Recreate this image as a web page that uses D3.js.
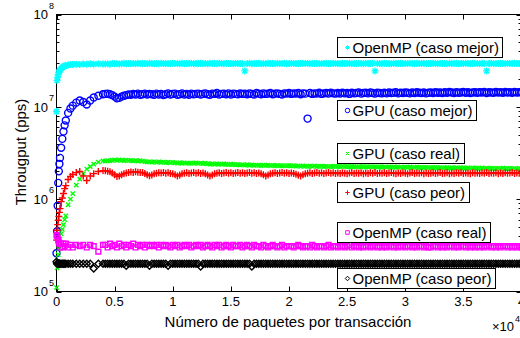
<!DOCTYPE html>
<html>
<head>
<meta charset="utf-8">
<script src="https://cdn.jsdelivr.net/npm/d3@7"></script>
<style>
  body { margin: 0; background: #fff; }
  svg { display: block; font-family: "Liberation Sans", Arial, Helvetica, sans-serif; }
</style>
</head>
<body>
<svg id="chart" width="520" height="338"></svg>
<script>
// packets per transaction (x), throughput in Mpps (y)
const packets = [
  0, 50, 100, 150, 200, 250, 300, 400, 500, 600, 700, 800, 1000, 1200, 1400, 1700, 2000, 2300, 2600, 2900, 3200, 3600, 4000,
  4200, 4400, 4600, 4800, 5000, 5200, 5400, 5600, 5800, 6000, 6200, 6400, 6600, 6800, 7000, 7200, 7400, 7600, 7800, 8000,
  8200, 8400, 8600, 8800, 9000, 9200, 9400, 9600, 9800, 10000, 10200, 10400, 10600, 10800, 11000, 11200, 11400, 11600, 11800, 12000,
  12200, 12400, 12600, 12800, 13000, 13200, 13400, 13600, 13800, 14000, 14200, 14400, 14600, 14800, 15000, 15200, 15400, 15600, 15800, 16000,
  16200, 16400, 16600, 16800, 17000, 17200, 17400, 17600, 17800, 18000, 18200, 18400, 18600, 18800, 19000, 19200, 19400, 19600, 19800, 20000,
  20200, 20400, 20600, 20800, 21000, 21200, 21400, 21600, 21800, 22000, 22200, 22400, 22600, 22800, 23000, 23200, 23400, 23600, 23800, 24000,
  24200, 24400, 24600, 24800, 25000, 25200, 25400, 25600, 25800, 26000, 26200, 26400, 26600, 26800, 27000, 27200, 27400, 27600, 27800, 28000,
  28200, 28400, 28600, 28800, 29000, 29200, 29400, 29600, 29800, 30000, 30200, 30400, 30600, 30800, 31000, 31200, 31400, 31600, 31800, 32000,
  32200, 32400, 32600, 32800, 33000, 33200, 33400, 33600, 33800, 34000, 34200, 34400, 34600, 34800, 35000, 35200, 35400, 35600, 35800, 36000,
  36200, 36400, 36600, 36800, 37000, 37200, 37400, 37600, 37800, 38000, 38200, 38400, 38600, 38800, 39000, 39200, 39400, 39600, 39800, 40000
];

const openmpBest = [
  8.9, 19.3, 21.0, 22.3, 23.5, 24.4, 25.0, 26.0, 26.7, 27.3, 27.6, 28.0, 28.3, 28.7, 28.7, 29.0, 28.8, 29.1, 28.9, 29.2, 29.0, 29.3, 29.1,
  29.1, 29.3, 29.0, 29.4, 29.2, 29.5, 29.1, 29.3, 29.6, 29.2, 29.4, 29.3, 29.5, 29.2, 29.6, 29.4, 29.3, 29.5, 29.2, 29.6,
  29.4, 29.2, 29.5, 29.3, 29.6, 29.4, 29.2, 29.5, 29.3, 29.6, 29.4, 29.5, 29.2, 29.6, 29.3, 29.5, 29.4, 29.6, 29.3, 29.5,
  29.4, 29.6, 29.3, 29.5, 29.2, 29.6, 29.4, 29.5, 29.3, 29.6, 29.5, 29.3, 29.6, 29.4, 29.5, 29.2, 29.6, 29.4, 29.5, 29.3,
  24.5, 29.4, 29.6, 29.3, 29.5, 29.4, 29.6, 29.2, 29.5, 29.3, 29.6, 29.4, 29.5, 29.3, 29.6, 29.5, 29.4, 29.6, 29.3, 29.5,
  29.6, 29.4, 29.5, 29.3, 29.6, 29.4, 29.5, 29.6, 29.3, 29.5, 29.4, 29.6, 29.2, 29.5, 29.4, 29.6, 29.3, 29.5, 29.6, 29.4,
  29.5, 29.3, 29.6, 29.4, 29.5, 29.6, 29.3, 29.5, 29.4, 29.6, 29.5, 29.3, 29.6, 29.4, 29.5, 29.6, 24.5, 29.4, 29.5, 29.3,
  29.6, 29.4, 29.5, 29.3, 29.6, 29.5, 29.4, 29.6, 29.3, 29.5, 29.4, 29.6, 29.5, 29.3, 29.6, 29.4, 29.5, 29.6, 29.3, 29.5,
  29.4, 29.6, 29.5, 29.3, 29.6, 29.4, 29.5, 29.3, 29.6, 29.5, 29.4, 29.6, 29.3, 29.5, 29.4, 29.6, 29.5, 29.3, 29.6, 29.4,
  29.5, 29.3, 29.6, 29.4, 24.5, 29.5, 29.6, 29.3, 29.5, 29.4, 29.6, 29.5, 29.3, 29.6, 29.4, 29.5, 29.6, 29.4, 29.5, 29.3
];

const gpuBest = [
  0.26, 0.45, 0.85, 1.5, 2.0, 2.4, 2.8, 3.6, 4.5, 5.4, 6.3, 7.1, 8.6, 9.6, 10.3, 11.1, 11.7, 11.3, 10.6, 11.7, 12.6, 13.2, 13.7,
  13.8, 13.9, 13.7, 13.4, 12.9, 12.4, 12.5, 12.9, 13.2, 13.4, 13.6, 13.5, 13.8, 13.6, 13.9, 13.5, 13.7, 13.9, 13.6, 13.8,
  13.7, 13.5, 13.9, 13.6, 13.8, 13.4, 13.7, 14.0, 13.6, 13.8, 13.9, 13.5, 13.7, 14.0, 13.6, 13.8, 13.5, 13.9, 13.7, 13.8,
  13.9, 13.6, 13.8, 14.0, 13.7, 13.5, 13.9, 13.8, 14.1, 13.6, 13.8, 13.9, 13.7, 14.0, 13.6, 13.9, 13.8, 13.7, 14.0, 13.8,
  13.9, 13.7, 14.0, 13.8, 13.6, 14.1, 13.9, 13.7, 14.0, 13.8, 13.9, 14.1, 13.7, 13.9, 14.0, 13.8, 13.6, 14.0, 13.9, 14.1,
  13.8, 14.0, 13.9, 14.1, 13.7, 14.0, 13.9, 7.46, 14.1, 13.8, 14.0, 13.9, 14.2, 13.8, 14.0, 14.1, 13.9, 14.2, 14.0, 13.9,
  14.1, 13.9, 14.2, 14.0, 14.1, 13.8, 14.2, 14.0, 14.1, 14.3, 13.9, 14.1, 14.2, 14.0, 14.3, 14.1, 13.9, 14.2, 14.1, 14.0,
  14.2, 14.0, 14.3, 14.1, 14.2, 14.4, 14.0, 14.2, 14.1, 14.3, 14.2, 14.0, 14.3, 14.1, 14.4, 14.2, 14.1, 14.3, 14.0, 14.2,
  14.3, 14.1, 14.4, 14.2, 14.3, 14.1, 14.4, 14.2, 14.5, 14.3, 14.1, 14.4, 14.2, 14.3, 14.5, 14.2, 14.4, 14.1, 14.3, 14.4,
  14.2, 14.4, 14.3, 14.5, 14.1, 14.4, 14.3, 14.2, 14.5, 14.3, 14.4, 14.2, 14.5, 14.3, 14.4, 14.2, 14.5, 14.3, 14.4, 14.3
];

const gpuReal = [
  0.11, 0.18, 0.21, 0.25, 0.29, 0.33, 0.37, 0.42, 0.47, 0.53, 0.60, 0.66, 0.87, 1.0, 1.15, 1.42, 1.65, 1.88, 2.12, 2.25, 2.40, 2.52, 2.60,
  2.58, 2.62, 2.60, 2.64, 2.66, 2.63, 2.67, 2.64, 2.62, 2.65, 2.61, 2.63, 2.60, 2.62, 2.59, 2.61, 2.58, 2.55, 2.53, 2.54,
  2.52, 2.54, 2.51, 2.53, 2.50, 2.52, 2.49, 2.51, 2.48, 2.50, 2.47, 2.46, 2.48, 2.45, 2.47, 2.46, 2.44, 2.46, 2.45, 2.47,
  2.44, 2.46, 2.43, 2.45, 2.42, 2.40, 2.42, 2.39, 2.41, 2.40, 2.38, 2.41, 2.39, 2.37, 2.39, 2.38, 2.36, 2.37, 2.35, 2.36,
  2.34, 2.36, 2.33, 2.35, 2.32, 2.34, 2.33, 2.31, 2.34, 2.32, 2.33, 2.31, 2.32, 2.30, 2.32, 2.31, 2.29, 2.31, 2.30, 2.31,
  2.29, 2.30, 2.28, 2.29, 2.27, 2.29, 2.28, 2.26, 2.28, 2.27, 2.29, 2.26, 2.27, 2.28, 2.26, 2.27, 2.25, 2.27, 2.26, 2.27,
  2.26, 2.25, 2.27, 2.25, 2.26, 2.24, 2.26, 2.25, 2.23, 2.25, 2.24, 2.26, 2.23, 2.24, 2.25, 2.23, 2.24, 2.22, 2.24, 2.23,
  2.23, 2.22, 2.24, 2.22, 2.23, 2.21, 2.23, 2.22, 2.20, 2.22, 2.21, 2.23, 2.20, 2.21, 2.22, 2.20, 2.21, 2.19, 2.21, 2.20,
  2.20, 2.19, 2.21, 2.19, 2.20, 2.18, 2.20, 2.19, 2.17, 2.19, 2.18, 2.20, 2.17, 2.18, 2.19, 2.17, 2.18, 2.16, 2.18, 2.17,
  2.17, 2.16, 2.18, 2.16, 2.17, 2.15, 2.17, 2.16, 2.14, 2.16, 2.15, 2.17, 2.14, 2.15, 2.16, 2.14, 2.15, 2.13, 2.15, 2.14
];

const gpuWorst = [
  0.36, 0.46, 0.53, 0.59, 0.65, 0.72, 0.79, 0.94, 1.03, 1.15, 1.30, 1.40, 1.63, 1.76, 1.85, 1.94, 1.99, 1.78, 1.59, 1.78, 1.89, 1.99, 2.04,
  2.03, 2.01, 1.98, 1.92, 1.84, 1.76, 1.78, 1.84, 1.89, 1.92, 1.95, 1.97, 1.95, 1.98, 1.96, 1.94, 1.95, 1.90, 1.84, 1.79,
  1.83, 1.88, 1.91, 1.93, 1.92, 1.94, 1.91, 1.93, 1.90, 1.88, 1.84, 1.78, 1.83, 1.88, 1.91, 1.93, 1.90, 1.92, 1.94, 1.91,
  1.93, 1.90, 1.92, 1.88, 1.83, 1.78, 1.83, 1.88, 1.91, 1.93, 1.90, 1.92, 1.94, 1.91, 1.93, 1.90, 1.92, 1.94, 1.91, 1.93,
  1.90, 1.92, 1.94, 1.91, 1.93, 1.90, 1.92, 1.88, 1.84, 1.78, 1.83, 1.88, 1.91, 1.93, 1.90, 1.92, 1.94, 1.91, 1.93, 1.90,
  1.92, 1.90, 1.86, 1.82, 1.78, 1.84, 1.88, 1.91, 1.93, 1.90, 1.92, 1.94, 1.91, 1.93, 1.90, 1.92, 1.94, 1.91, 1.93, 1.90,
  1.92, 1.90, 1.93, 1.91, 1.89, 1.92, 1.94, 1.90, 1.92, 1.91, 1.93, 1.89, 1.92, 1.90, 1.93, 1.91, 1.94, 1.90, 1.92, 1.91,
  1.93, 1.90, 1.92, 1.94, 1.91, 1.89, 1.92, 1.90, 1.93, 1.91, 1.88, 1.92, 1.94, 1.90, 1.92, 1.91, 1.93, 1.89, 1.92, 1.90,
  1.91, 1.93, 1.90, 1.92, 1.94, 1.90, 1.91, 1.93, 1.89, 1.92, 1.90, 1.93, 1.91, 1.94, 1.90, 1.92, 1.91, 1.89, 1.93, 1.91,
  1.92, 1.90, 1.93, 1.91, 1.94, 1.90, 1.92, 1.91, 1.93, 1.89, 1.92, 1.90, 1.93, 1.91, 1.92, 1.94, 1.90, 1.92, 1.91, 1.93
];

const openmpReal = [
  0.41, 0.40, 0.38, 0.36, 0.34, 0.33, 0.30, 0.33, 0.30, 0.33, 0.31, 0.33, 0.30, 0.32, 0.30, 0.32, 0.31, 0.32, 0.30, 0.32, 0.31, 0.27, 0.32,
  0.32, 0.30, 0.33, 0.31, 0.32, 0.30, 0.33, 0.31, 0.32, 0.30, 0.32, 0.31, 0.33, 0.30, 0.32, 0.31, 0.32, 0.30, 0.32, 0.31,
  0.32, 0.31, 0.32, 0.30, 0.32, 0.31, 0.32, 0.31, 0.30, 0.32, 0.31, 0.32, 0.30, 0.31, 0.32, 0.31, 0.32, 0.30, 0.31, 0.32,
  0.31, 0.32, 0.30, 0.31, 0.32, 0.31, 0.30, 0.32, 0.31, 0.32, 0.30, 0.31, 0.32, 0.31, 0.30, 0.32, 0.31, 0.31, 0.32, 0.30,
  0.31, 0.32, 0.31, 0.30, 0.32, 0.31, 0.31, 0.30, 0.32, 0.31, 0.30, 0.31, 0.32, 0.31, 0.30, 0.31, 0.32, 0.30, 0.31, 0.31,
  0.31, 0.30, 0.31, 0.32, 0.31, 0.30, 0.31, 0.31, 0.30, 0.32, 0.31, 0.30, 0.31, 0.31, 0.30, 0.31, 0.32, 0.30, 0.31, 0.31,
  0.30, 0.31, 0.31, 0.30, 0.31, 0.32, 0.30, 0.31, 0.31, 0.30, 0.31, 0.30, 0.31, 0.31, 0.30, 0.31, 0.31, 0.30, 0.31, 0.30,
  0.31, 0.30, 0.31, 0.31, 0.30, 0.31, 0.30, 0.31, 0.31, 0.30, 0.31, 0.31, 0.30, 0.31, 0.30, 0.31, 0.31, 0.30, 0.31, 0.30,
  0.30, 0.31, 0.31, 0.30, 0.31, 0.30, 0.31, 0.30, 0.31, 0.31, 0.30, 0.31, 0.30, 0.31, 0.31, 0.30, 0.31, 0.30, 0.31, 0.30,
  0.31, 0.30, 0.31, 0.30, 0.31, 0.31, 0.30, 0.31, 0.30, 0.31, 0.30, 0.31, 0.31, 0.30, 0.31, 0.30, 0.31, 0.30, 0.31, 0.30
];

const openmpWorst = [
  0.21, 0.20, 0.20, 0.20, 0.20, 0.20, 0.20, 0.20, 0.20, 0.20, 0.20, 0.20, 0.20, 0.20, 0.20, 0.20, 0.20, 0.20, 0.20, 0.20, 0.177, 0.20, 0.20,
  0.20, 0.20, 0.20, 0.20, 0.20, 0.20, 0.20, 0.20, 0.20, 0.19, 0.20, 0.20, 0.20, 0.20, 0.20, 0.20, 0.20, 0.20, 0.20, 0.19,
  0.20, 0.20, 0.20, 0.20, 0.20, 0.20, 0.20, 0.19, 0.20, 0.20, 0.20, 0.20, 0.20, 0.20, 0.20, 0.20, 0.20, 0.20, 0.20, 0.20,
  0.20, 0.186, 0.20, 0.20, 0.20, 0.20, 0.20, 0.20, 0.20, 0.20, 0.20, 0.20, 0.20, 0.20, 0.20, 0.20, 0.20, 0.20, 0.20, 0.20,
  0.20, 0.20, 0.20, 0.186, 0.20, 0.20, 0.20, 0.20, 0.20, 0.20, 0.20, 0.20, 0.20, 0.20, 0.20, 0.20, 0.20, 0.20, 0.20, 0.20,
  0.20, 0.20, 0.20, 0.20, 0.20, 0.20, 0.20, 0.20, 0.20, 0.20, 0.20, 0.20, 0.20, 0.20, 0.20, 0.20, 0.20, 0.20, 0.20, 0.20,
  0.20, 0.20, 0.20, 0.20, 0.20, 0.20, 0.20, 0.20, 0.20, 0.20, 0.20, 0.20, 0.20, 0.20, 0.20, 0.20, 0.20, 0.20, 0.20, 0.20,
  0.20, 0.20, 0.20, 0.20, 0.20, 0.20, 0.20, 0.20, 0.20, 0.20, 0.20, 0.20, 0.20, 0.20, 0.20, 0.20, 0.20, 0.20, 0.20, 0.20,
  0.20, 0.20, 0.20, 0.20, 0.20, 0.20, 0.20, 0.20, 0.20, 0.20, 0.20, 0.20, 0.20, 0.20, 0.20, 0.20, 0.20, 0.20, 0.20, 0.20,
  0.20, 0.20, 0.20, 0.20, 0.20, 0.20, 0.20, 0.20, 0.20, 0.20, 0.20, 0.20, 0.20, 0.20, 0.20, 0.20, 0.20, 0.20, 0.20, 0.20
];

const seriesNames = ['OpenMP (caso mejor)', 'GPU (caso mejor)', 'GPU (caso real)',
  'GPU (caso peor)', 'OpenMP (caso real)', 'OpenMP (caso peor)'];
const xTicks = [0, 5000, 10000, 15000, 20000, 25000, 30000, 35000, 40000];
const xTickLabels = ['0', '0.5', '1', '1.5', '2', '2.5', '3', '3.5', '4'];
const yDecades = [5, 6, 7, 8];

// styles per series, same order as seriesNames
const colors = ['#00ffff', '#0000ff', '#00ff00', '#ff0000', '#ff00ff', '#000000'];
const shapes = ['star', 'circle', 'x', 'plus', 'square', 'diamond'];
const markerSizes = [7, 7, 6, 7, 6, 7];
const legendTops = [37, 100, 143, 182, 222, 268];

const series = [openmpBest, gpuBest, gpuReal, gpuWorst, openmpReal, openmpWorst].map((vals, i) => ({
  name: seriesNames[i],
  color: colors[i],
  shape: shapes[i],
  size: markerSizes[i],
  points: vals.map((v, j) => ({ x: packets[j], y: v * 1e6 }))
}));

const plot = { left: 56.5, top: 14.5, right: 521.5, bottom: 291.5 };

const x = d3.scaleLinear().domain([0, 40000]).range([plot.left, plot.right]);
const y = d3.scaleLog().domain([1e5, 1e8]).range([plot.bottom, plot.top]);

function markerPath(shape, s) {
  const h = s / 2, d = h * 0.72;
  switch (shape) {
    case 'star': return `M${-h},0H${h}M0,${-h}V${h}M${-d},${-d}L${d},${d}M${-d},${d}L${d},${-d}`;
    case 'circle': return `M${-h},0a${h},${h} 0 1,0 ${s},0a${h},${h} 0 1,0 ${-s},0`;
    case 'x': return `M${-d},${-d}L${d},${d}M${-d},${d}L${d},${-d}`;
    case 'plus': return `M${-h},0H${h}M0,${-h}V${h}`;
    case 'square': return `M${-h * 0.8},${-h * 0.8}H${h * 0.8}V${h * 0.8}H${-h * 0.8}Z`;
    case 'diamond': return `M0,${-h}L${h},0L0,${h}L${-h},0Z`;
  }
}

const svg = d3.select('#chart');

// axes box
svg.append('rect')
  .attr('x', plot.left).attr('y', plot.top)
  .attr('width', plot.right - plot.left).attr('height', plot.bottom - plot.top)
  .attr('fill', '#fff').attr('stroke', '#000').attr('stroke-width', 1);

// ticks
const tickG = svg.append('g').attr('stroke', '#000').attr('stroke-width', 1);
xTicks.forEach(t => {
  const px = Math.round(x(t)) + 0.5;
  tickG.append('line').attr('x1', px).attr('x2', px).attr('y1', plot.bottom).attr('y2', plot.bottom - 5);
  tickG.append('line').attr('x1', px).attr('x2', px).attr('y1', plot.top).attr('y2', plot.top + 5);
});
y.ticks().forEach(t => {
  const py = Math.round(y(t)) + 0.5;
  const major = Math.abs(Math.log10(t) - Math.round(Math.log10(t))) < 1e-9;
  const len = major ? 5 : 3;
  tickG.append('line').attr('x1', plot.left).attr('x2', plot.left + len).attr('y1', py).attr('y2', py);
  tickG.append('line').attr('x1', plot.right).attr('x2', plot.right - len).attr('y1', py).attr('y2', py);
});

// tick labels
const xAxisLabels = svg.append('g').attr('font-size', 13).attr('text-anchor', 'middle').attr('fill', '#000');
xTicks.forEach((t, i) => {
  xAxisLabels.append('text').attr('x', x(t)).attr('y', 306).text(xTickLabels[i]);
});
svg.append('text').attr('x', 492).attr('y', 331).attr('font-size', 13).text('\u00d710');
svg.append('text').attr('x', 515).attr('y', 322).attr('font-size', 9).text('4');

const yAxisLabels = svg.append('g').attr('fill', '#000');
yDecades.forEach(e => {
  const py = y(Math.pow(10, e));
  yAxisLabels.append('text').attr('x', 48).attr('y', py + 4.7)
    .attr('font-size', 13).attr('text-anchor', 'end').text('10');
  yAxisLabels.append('text').attr('x', 49).attr('y', py - 6)
    .attr('font-size', 9).text(e);
});

// axis titles
svg.append('text').attr('x', 288).attr('y', 327).attr('font-size', 15)
  .attr('text-anchor', 'middle').text('Número de paquetes por transacción');
svg.append('text').attr('transform', 'translate(25.5,152) rotate(-90)').attr('font-size', 15)
  .attr('text-anchor', 'middle').text('Througput (pps)');

// data markers
series.forEach(s => {
  svg.append('g')
    .attr('fill', 'none').attr('stroke', s.color).attr('stroke-width', 1.4)
    .selectAll('path')
    .data(s.points)
    .join('path')
    .attr('transform', d => `translate(${x(d.x)},${y(d.y)})`)
    .attr('d', markerPath(s.shape, s.size));
});

// legends (one box per series)
series.forEach((s, i) => {
  const g = svg.append('g').attr('transform', `translate(337.5,${legendTops[i] + 0.5})`);
  const box = g.append('rect').attr('height', 20).attr('fill', '#fff').attr('stroke', '#000').attr('stroke-width', 1);
  const txt = g.append('text').attr('x', 15).attr('y', 15.3).attr('font-size', 15).text(s.name);
  g.append('path').attr('transform', 'translate(10,10)')
    .attr('d', markerPath(s.shape, 4.5))
    .attr('fill', 'none').attr('stroke', s.color).attr('stroke-width', 1);
  box.attr('width', Math.round(15 + txt.node().getComputedTextLength() + 4));
});
</script>
</body>
</html>
